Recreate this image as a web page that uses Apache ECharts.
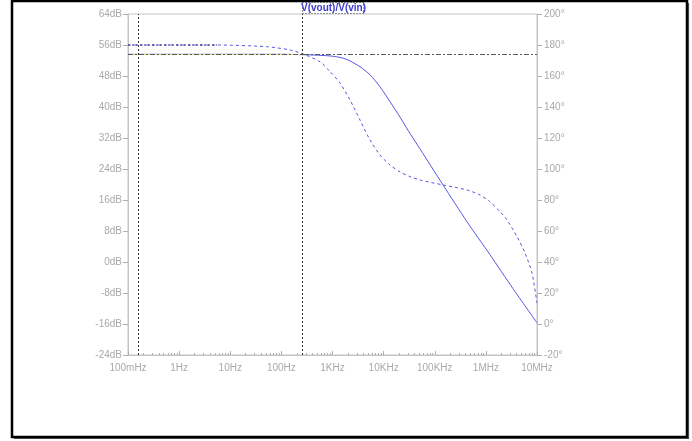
<!DOCTYPE html>
<html>
<head>
<meta charset="utf-8">
<script src="https://cdn.jsdelivr.net/npm/echarts@6/dist/echarts.min.js"></script>
<style>
  html, body { margin: 0; padding: 0; background: #fff; }
  #chart { width: 692px; height: 441px; }
</style>
</head>
<body>
<div id="chart"></div>
<script>
// Bode plot of V(vout)/V(vin): magnitude (solid) and phase (dashed)
const freqTicks = [0.1, 1, 10, 100, 1e3, 1e4, 1e5, 1e6, 1e7];
const freqTickLabels = ['100mHz', '1Hz', '10Hz', '100Hz', '1KHz', '10KHz', '100KHz', '1MHz', '10MHz'];

// frequency (Hz) for the magnitude trace
const magFreq = [0.1, 1, 10, 100, 265, 652, 1000, 1403, 1800, 2200, 3450, 5420, 8500, 13300, 20900, 30000, 51400, 145000, 427000, 1.2e6, 3.4e6, 1e7];
// magnitude in dB
const magDb = [53.6, 53.6, 53.6, 53.6, 53.5, 53.3, 53.1, 52.8, 52.4, 51.9, 50.4, 48.3, 45.2, 41.4, 37.4, 34.0, 29.2, 19.9, 10.4, 1.9, -6.9, -15.7];

// frequency (Hz) for the phase trace
const phaseFreq = [0.1, 1, 5.5, 52, 147, 265, 570, 894, 1403, 2200, 3450, 5420, 8500, 13300, 20900, 32800, 51400, 145000, 427000, 767000, 1.2e6, 1.89e6, 2.59e6, 4.06e6, 5.83e6, 7.98e6, 1e7];
// phase in degrees
const phaseDeg = [180, 180, 180, 178.9, 176.8, 174.2, 169.2, 162.8, 155.5, 144.5, 131.6, 118.7, 109.0, 102.6, 98.1, 95.1, 92.9, 89.7, 86.5, 83.2, 78.9, 72.5, 67.1, 56.4, 45.8, 32.9, 13.5];

// cursor positions
const cursor1Freq = 0.164;
const cursor2Freq = 253;
const cursorLevelDb = 53.6;

const traceColor = '#5656e4';
const axisGray = '#c4c4c4';
const labelGray = '#a9a9a9';
const font = '"Liberation Sans", Arial, sans-serif';

const magData = magFreq.map((f, i) => [f, magDb[i]]);
const phaseData = phaseFreq.map((f, i) => [f, phaseDeg[i]]);

const chart = echarts.init(document.getElementById('chart'), null, { renderer: 'canvas' });

const labelFor = v => {
  const i = freqTicks.findIndex(t => Math.abs(Math.log10(t) - Math.log10(v)) < 1e-6);
  return i >= 0 ? freqTickLabels[i] : '';
};

chart.setOption({
  backgroundColor: '#fff',
  animation: false,
  grid: {
    left: 128, top: 14, right: 155, bottom: 86,
    show: true, borderColor: axisGray, borderWidth: 1, backgroundColor: 'transparent'
  },
  xAxis: {
    type: 'log', logBase: 10, min: 0.1, max: 1e7,
    axisLine: { show: true, onZero: false, lineStyle: { color: axisGray } },
    axisTick: { show: true, inside: true, length: 4, lineStyle: { color: '#b0b0b0' } },
    minorTick: { show: true, splitNumber: 9, length: 2, lineStyle: { color: '#b0b0b0' } },
    splitLine: { show: false },
    minorSplitLine: { show: false },
    axisLabel: {
      color: labelGray, fontSize: 10, fontFamily: font, margin: 8,
      formatter: labelFor
    }
  },
  yAxis: [
    {
      type: 'value', min: -24, max: 64, interval: 8,
      axisLine: { show: true, onZero: false, lineStyle: { color: axisGray } },
      axisTick: { show: true, inside: false, length: 5, lineStyle: { color: '#b0b0b0' } },
      splitLine: { show: false },
      axisLabel: { color: labelGray, fontSize: 10, fontFamily: font, margin: 6, formatter: v => v + 'dB' }
    },
    {
      type: 'value', min: -20, max: 200, interval: 20, position: 'right',
      axisLine: { show: true, onZero: false, lineStyle: { color: axisGray } },
      axisTick: { show: true, inside: false, length: 5, lineStyle: { color: '#b0b0b0' } },
      splitLine: { show: false },
      axisLabel: { color: labelGray, fontSize: 10, fontFamily: font, margin: 7, formatter: v => v + '°' }
    }
  ],
  series: [
    {
      name: 'phase',
      type: 'line', yAxisIndex: 1, data: phaseData,
      smooth: 0.25, symbol: 'none',
      lineStyle: { color: traceColor, width: 1, type: [3, 3] },
      z: 3
    },
    {
      name: 'phase (flat)',
      type: 'line', yAxisIndex: 1, data: phaseData.slice(0, 3),
      symbol: 'none',
      lineStyle: { color: '#25256a', width: 1, type: [2, 2] },
      z: 4
    },
    {
      name: 'magnitude',
      type: 'line', yAxisIndex: 0, data: magData,
      smooth: 0.25, symbol: 'none',
      lineStyle: { color: traceColor, width: 1 },
      z: 3,
      markLine: {
        silent: true, symbol: 'none', label: { show: false }, animation: false,
        data: [
          [
            { coord: [0.1, cursorLevelDb], lineStyle: { color: '#ece47a', width: 1.2, type: 'solid' } },
            { coord: [cursor2Freq, cursorLevelDb] }
          ],
          { yAxis: cursorLevelDb, lineStyle: { color: '#5a5a5a', width: 1, type: [5, 2, 2, 2] } },
          { xAxis: cursor1Freq, lineStyle: { color: '#333', width: 1, type: [2, 2] } },
          { xAxis: cursor2Freq, lineStyle: { color: '#333', width: 1, type: [2, 2] } }
        ]
      }
    }
  ]
});

// title tag sitting on top of cursor 2, plus the outer frame
const cx = Math.round(chart.convertToPixel({ xAxisIndex: 0 }, cursor2Freq)) + 0.5;
chart.setOption({
  graphic: [
    {
      type: 'rect', shape: { x: 12, y: 1, width: 675, height: 436 },
      style: { fill: 'none', stroke: '#000', lineWidth: 2.5 }, z: 100
    },
    {
      type: 'polyline', shape: { points: [[14, 438.5], [688.5, 438.5], [688.5, 3]] },
      style: { stroke: '#444', lineWidth: 1.2, fill: 'none' }, z: 100
    },
    {
      type: 'rect', shape: { x: cx, y: 2.5, width: 61, height: 11 },
      style: { fill: '#fff', stroke: '#333', lineWidth: 1, lineDash: [1, 2] }, z: 50
    },
    {
      type: 'text', x: cx + 31, y: 8,
      style: {
        text: 'V(vout)/V(vin)', fill: '#3b3bd0', font: 'bold 10px "Liberation Sans Narrow", "Liberation Sans", Arial, sans-serif',
        align: 'center', verticalAlign: 'middle'
      }, z: 51
    }
  ]
});
</script>
</body>
</html>
